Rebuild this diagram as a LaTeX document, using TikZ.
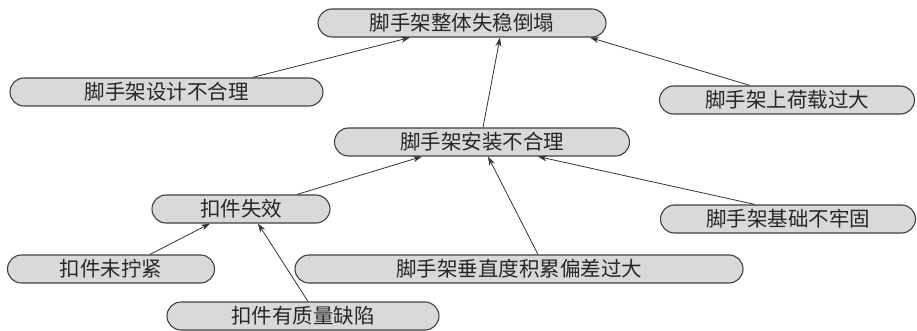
\documentclass[tikz,border=0pt]{standalone}
\usepackage{fontspec}
\newfontfamily\cjk{Noto Sans CJK SC}
\usetikzlibrary{shapes.misc,arrows.meta,calc}
\begin{document}
\begin{tikzpicture}[x=1pt,y=-1pt,
  box/.style={rounded rectangle, draw=black!75, line width=1.1pt, fill=black!15,
    minimum height=28pt, inner sep=0pt, font=\cjk\fontsize{20.5}{22}\selectfont, text=black!85},
  arr/.style={draw=black!80, line width=0.8pt, -{Stealth[length=9pt,width=6pt]}}]
\useasboundingbox (0,0) rectangle (917,331);
\node[box, minimum width=288pt] (top) at (462,23) {脚手架整体失稳倒塌};
\node[box, minimum width=313pt] (design) at (166.5,92) {脚手架设计不合理};
\node[box, minimum width=255pt] (load) at (787,100) {脚手架上荷载过大};
\node[box, minimum width=295pt] (install) at (482,142) {脚手架安装不合理};
\node[box, minimum width=178pt] (fail) at (241,209) {扣件失效};
\node[box, minimum width=255pt] (base) at (788,219) {脚手架基础不牢固};
\node[box, minimum width=207pt] (loose) at (111,269) {扣件未拧紧};
\node[box, minimum width=448pt] (vert) at (519,269) {脚手架垂直度积累偏差过大};
\node[box, minimum width=272pt] (qual) at (303,316) {扣件有质量缺陷};
\draw[arr] ([xshift=86pt]design.north) -- ([xshift=-52pt]top.south);
\draw[arr] ([xshift=1pt]install.north) -- ([xshift=38pt]top.south);
\draw[arr] ([xshift=-37pt]load.north) -- ([xshift=128pt]top.south);
\draw[arr] ([xshift=56pt]fail.north) -- ([xshift=-60pt]install.south);
\draw[arr] ([xshift=19pt]vert.north) -- ([xshift=6pt]install.south);
\draw[arr] ([xshift=-33pt]base.north) -- ([xshift=56pt]install.south);
\draw[arr] ([xshift=39pt]loose.north) -- ([xshift=-31pt]fail.south);
\draw[arr] ([xshift=5pt]qual.north) -- ([xshift=17pt]fail.south);
\end{tikzpicture}
\end{document}
